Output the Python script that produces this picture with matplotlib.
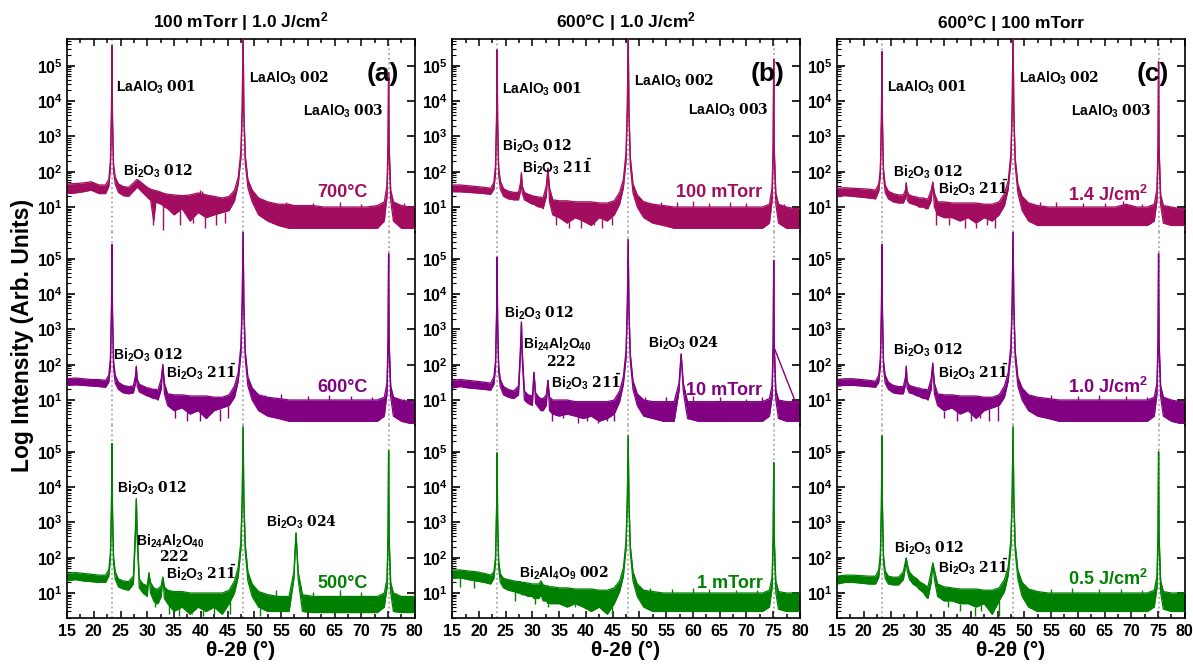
import numpy as np
import matplotlib
matplotlib.use("Agg")
import matplotlib.pyplot as plt
from matplotlib.ticker import LogLocator, MultipleLocator, NullFormatter

plt.rcParams['font.family'] = ['Liberation Sans', 'DejaVu Sans']
plt.rcParams['font.weight'] = 'bold'
plt.rcParams['mathtext.fontset'] = 'custom'
plt.rcParams['mathtext.rm'] = 'Liberation Sans:bold'
plt.rcParams['mathtext.bf'] = 'DejaVu Serif:bold'
plt.rcParams['mathtext.default'] = 'rm'

# 2-theta sample points shared by all patterns (deg)
THETA = [15, 16.5, 18, 19.5, 21, 22.2,
         22.8, 23.1, 23.3, 23.4, 23.5, 23.7, 24.0,
         24.6, 25.5, 26.5, 27.4, 27.8, 27.95, 28.1, 28.5,
         29.2, 30.0, 30.3, 30.6, 31.2, 31.6, 32.0, 32.6, 32.9, 33.2, 33.8,
         35, 36.5, 38, 39.5, 41, 42.5, 44, 45.3,
         46.3, 47.0, 47.5, 47.75, 47.9, 48.05, 48.3, 48.8, 49.6,
         50.8, 52.5, 54.5, 56.5, 57.4, 57.8, 58.2, 59,
         61, 63, 65, 67, 69, 71, 73,
         74.3, 74.8, 75.0, 75.1, 75.2, 75.5, 76.0,
         77.5, 79, 80]

# substrate peaks (dotted guide lines)
LAO_PEAKS = [23.4, 47.9, 75.1]

# ---- (a) 100 mTorr | 1.0 J/cm2, temperature series ----
a700_hi = [45, 46, 48, 52, 42, 42,
           60, 200, 5000, 3.7e5, 3000, 150, 70,
           45, 38, 36, 48, 55, 58, 60, 55,
           45, 36, 34, 32, 30, 29, 28, 26, 25, 24, 23,
           22, 21, 22, 25, 22, 20, 18, 20,
           30, 70, 400, 8000, 1e6, 6000, 300, 60, 30,
           18, 14, 12, 12, 11, 11, 11, 11,
           11, 10, 10, 10, 10, 10, 11,
           14, 40, 800, 6.3e4, 600, 30, 14,
           11, 10, 10]
a700_lo = [24, 25, 27, 30, 24, 24,
           38, 120, 3000, 3.7e5, 2000, 100, 45,
           26, 21, 20, 28, 32, 35, 36, 32,
           25, 19, 17, 16, 4, 14, 13, 12, 11, 10, 9,
           6, 9, 4, 7, 5, 6, 7, 8,
           15, 45, 250, 6000, 1e6, 4000, 180, 35, 14,
           6, 4, 3, 2.5, 2.5, 2.5, 2.5, 2.5,
           2.5, 2.5, 2.5, 2.5, 2.5, 2.5, 2.5,
           4, 20, 400, 6.3e4, 300, 15, 4,
           2.5, 2.5, 2.5]
a700_dip_x = [31.0, 33.0, 36.2, 38.5, 40.8, 42.9, 44.6]
a700_dip_y = [3, 2.2, 3, 3.5, 2.5, 3, 3.5]
a700_up_x = [39.8, 40.3, 52, 56, 61, 66, 70, 78]
a700_up_y = [30, 28, 15, 14, 13, 14, 12, 13]
a600_hi = [40, 42, 40, 38, 38, 36,
           50, 150, 4000, 2.5e5, 3000, 120, 50,
           32, 26, 24, 25, 50, 90, 40, 28,
           25, 22, 22, 21, 20, 20, 19, 40, 100, 30, 15,
           14, 14, 13, 13, 13, 12, 12, 14,
           25, 60, 350, 8000, 6.4e5, 6000, 250, 45, 22,
           14, 12, 11, 10, 10, 10, 10, 10,
           10, 10, 10, 10, 10, 10, 10,
           12, 30, 600, 1.4e5, 500, 25, 12,
           10, 9, 9]
a600_lo = [26, 27, 26, 25, 24, 23,
           32, 90, 2500, 2.5e5, 2000, 80, 30,
           20, 16, 15, 16, 30, 90, 25, 17,
           15, 13, 13, 12, 11, 11, 10, 20, 100, 15, 7,
           5, 6, 4, 5, 3, 5, 6, 7,
           12, 35, 200, 6000, 6.4e5, 4000, 150, 25, 10,
           5, 3.5, 3, 2.5, 2.5, 2.5, 2.5, 2.5,
           2.5, 2.5, 2.5, 2.5, 2.5, 2.5, 2.5,
           3.5, 15, 300, 1.4e5, 250, 12, 3.5,
           2.5, 2.2, 2.2]
a600_dip_x = [35.2, 37.5, 39.8, 41.2, 43.5, 45.0]
a600_dip_y = [3, 2.5, 2.5, 3, 2.5, 3]
a600_up_x = [52, 55, 60, 64, 68, 72, 78]
a600_up_y = [14, 15, 13, 14, 13, 12, 11]
a500_hi = [36, 38, 36, 34, 32, 32,
           45, 130, 3000, 1.7e5, 2000, 100, 40,
           25, 22, 21, 30, 800, 4600, 600, 25,
           18, 16, 37, 20, 14, 13, 13, 16, 28, 15, 12,
           11, 11, 10, 10, 10, 10, 10, 12,
           22, 55, 300, 7000, 5e5, 5000, 250, 40, 18,
           11, 9, 8, 8, 40, 500, 40, 9,
           8, 8, 8, 8, 8, 8, 8,
           10, 25, 500, 1.07e5, 400, 20, 10,
           8, 8, 8]
a500_lo = [22, 24, 22, 21, 20, 20,
           30, 90, 2000, 1.7e5, 1500, 70, 25,
           15, 13, 12, 18, 500, 4600, 400, 14,
           10, 8, 37, 10, 6, 5, 5, 8, 28, 7, 5,
           3, 4, 2.5, 4, 3, 4, 2.5, 5,
           10, 30, 180, 5000, 5e5, 3500, 150, 22, 8,
           4, 3, 3, 3, 25, 500, 25, 3,
           2.8, 2.8, 2.8, 2.8, 2.8, 2.8, 2.8,
           4, 14, 300, 1.07e5, 250, 10, 3,
           2.8, 2.8, 2.8]
a500_dip_x = [31.5, 34.0, 36.0, 38.3, 40.5, 42.5, 45.5, 51.0]
a500_dip_y = [4, 2.5, 2.2, 2.5, 2.2, 2.5, 2.5, 2.2]
a500_up_x = [54, 61, 66, 70, 76.5]
a500_up_y = [12, 11, 12, 11, 10]

# ---- (b) 600 C | 1.0 J/cm2, pressure series ----
b100_hi = [42, 42, 40, 38, 36, 34,
           50, 150, 4000, 2.8e5, 3000, 130, 55,
           33, 28, 26, 26, 50, 92, 40, 26,
           23, 21, 20, 20, 19, 19, 18, 40, 125, 35, 16,
           15, 15, 14, 14, 14, 13, 13, 15,
           26, 60, 350, 8000, 1e6, 6000, 260, 45, 22,
           14, 12, 11, 10, 10, 10, 10, 10,
           10, 10, 10, 10, 10, 10, 10,
           12, 35, 700, 1.5e5, 500, 25, 12,
           10, 9, 9]
b100_lo = [27, 27, 26, 25, 24, 23,
           32, 90, 2500, 2.8e5, 2000, 80, 32,
           20, 17, 16, 16, 30, 92, 25, 16,
           14, 12, 12, 11, 10, 10, 9, 20, 125, 14, 6,
           5, 3.5, 5, 4, 3, 5, 4, 6,
           12, 35, 200, 6000, 1e6, 4000, 150, 25, 10,
           5, 3.5, 3, 2.5, 2.5, 2.5, 2.5, 2.5,
           2.5, 2.5, 2.5, 2.5, 2.5, 2.5, 2.5,
           3.5, 15, 300, 1.5e5, 250, 12, 3.5,
           2.5, 2.5, 2.5]
b100_dip_x = [34.5, 36.8, 39.0, 41.6, 43.0, 44.8]
b100_dip_y = [3, 2.5, 2.5, 3, 2.5, 3]
b100_up_x = [51, 54, 57, 60, 63, 67, 70, 77]
b100_up_y = [15, 14, 14, 15, 13, 14, 13, 12]
b10_hi = [36, 38, 36, 34, 32, 30,
          45, 120, 3000, 1.1e5, 2000, 90, 38,
          24, 20, 18, 25, 400, 1600, 250, 18,
          14, 13, 61, 16, 12, 11, 11, 14, 36, 12, 10,
          10, 10, 9, 9, 9, 9, 9, 10,
          18, 45, 250, 6000, 3.5e5, 4000, 200, 35, 15,
          10, 9, 9, 9, 30, 200, 30, 9,
          9, 9, 9, 9, 9, 9, 9,
          11, 25, 500, 9e4, 400, 20, 10,
          9, 9, 9]
b10_lo = [22, 24, 22, 21, 20, 19,
          28, 80, 2000, 1.1e5, 1500, 60, 24,
          14, 12, 11, 14, 250, 1600, 150, 10,
          8, 7, 61, 8, 6, 5, 5, 7, 36, 5, 4,
          3.5, 4, 3.5, 3, 3.5, 2.5, 3, 4,
          9, 28, 150, 4000, 3.5e5, 3000, 130, 20, 7,
          3.5, 3, 2.5, 2.5, 18, 200, 18, 3,
          2.5, 2.5, 2.5, 2.5, 2.5, 2.5, 2.5,
          3.5, 12, 300, 9e4, 250, 10, 3,
          2.5, 2.5, 2.5]
b10_dip_x = [33.6, 35.8, 38.5, 40.2, 42.3, 44.0, 45.2]
b10_dip_y = [2.5, 3, 2.2, 2.5, 2.2, 2.5, 2.5]
b10_up_x = [51, 55, 60, 65, 70, 73]
b10_up_y = [12, 12, 13, 12, 11, 12]
# stray straight segment in the 10 mTorr scan
b10_stray_x = [75.2, 79.6]
b10_stray_y = [300, 6]
b1_hi = [45, 45, 42, 40, 36, 32,
         40, 100, 2500, 9.3e4, 1500, 80, 35,
         26, 24, 22, 21, 21, 20, 20, 20,
         19, 18, 18, 18, 18, 22, 17, 16, 16, 15, 15,
         14, 14, 13, 13, 13, 12, 12, 14,
         22, 50, 300, 6000, 2.8e5, 4500, 220, 40, 18,
         12, 11, 10, 10, 10, 10, 10, 10,
         10, 10, 10, 10, 10, 10, 10,
         12, 28, 500, 4.9e4, 400, 22, 11,
         10, 10, 10]
b1_lo = [26, 27, 24, 22, 20, 18,
         26, 70, 1800, 9.3e4, 1000, 50, 20,
         14, 12, 11, 10, 10, 9, 9, 9,
         8, 8, 7, 7, 7, 9, 6, 6, 5, 5, 5,
         5, 4, 5, 4, 3, 4, 2.5, 5,
         11, 30, 180, 4000, 2.8e5, 3000, 140, 22, 8,
         4, 3, 3, 3, 3, 3, 3, 3,
         3, 3, 3, 3, 3, 3, 3,
         4, 14, 300, 4.9e4, 250, 10, 3.5,
         3, 3, 3]
b1_dip_x = [16.5, 19.0, 26.8, 30.5, 33.0, 38.0, 41.0, 44.8]
b1_dip_y = [15, 14, 6, 5, 4, 4, 3, 2.5]
b1_up_x = [52, 56, 60, 63, 68, 72]
b1_up_y = [14, 13, 14, 13, 12, 12]

# ---- (c) 600 C | 100 mTorr, fluence series ----
c14_hi = [34, 35, 34, 33, 32, 30,
          45, 120, 3500, 2.5e5, 2500, 110, 42,
          28, 24, 22, 22, 30, 48, 28, 22,
          20, 19, 18, 18, 18, 17, 17, 30, 50, 25, 14,
          14, 13, 13, 13, 13, 12, 12, 14,
          24, 55, 330, 8000, 1e6, 6000, 250, 45, 20,
          13, 11, 10, 10, 10, 10, 10, 10,
          10, 10, 10, 10, 12, 10, 10,
          12, 32, 600, 1.3e5, 500, 22, 11,
          10, 9, 9]
c14_lo = [20, 21, 20, 19, 18, 17,
          28, 80, 2500, 2.5e5, 1800, 70, 26,
          17, 14, 13, 13, 18, 48, 16, 13,
          12, 11, 10, 10, 10, 9, 9, 15, 50, 10, 6,
          5, 5, 4, 5, 3.5, 5, 4, 6,
          11, 32, 200, 6000, 1e6, 4000, 150, 25, 8,
          4, 3, 3, 3, 3, 3, 3, 3,
          3, 3, 3, 3, 3, 3, 3,
          4, 15, 300, 1.3e5, 250, 11, 3.5,
          3, 3, 3]
c14_dip_x = [33.5, 36.0, 39.0, 41.0, 43.0, 44.5]
c14_dip_y = [3, 3, 2.5, 2.5, 3, 2.5]
c14_up_x = [50.5, 53, 56, 61, 65, 68.5, 72]
c14_up_y = [15, 14, 14, 13, 13, 15, 12]
c10_hi = [38, 40, 40, 38, 36, 34,
          50, 150, 4000, 2.5e5, 3000, 120, 50,
          32, 26, 24, 24, 45, 90, 35, 26,
          24, 22, 22, 21, 20, 20, 19, 40, 110, 30, 15,
          14, 14, 13, 13, 13, 12, 12, 14,
          25, 60, 350, 8000, 6.5e5, 6000, 250, 45, 22,
          14, 12, 11, 10, 10, 10, 10, 10,
          10, 10, 10, 10, 10, 10, 10,
          12, 30, 600, 1.4e5, 500, 25, 12,
          10, 9, 9]
c10_lo = [25, 26, 26, 25, 24, 23,
          32, 90, 2500, 2.5e5, 2000, 80, 30,
          20, 16, 15, 15, 28, 90, 22, 16,
          15, 13, 13, 12, 11, 11, 10, 20, 110, 15, 7,
          5, 6, 4, 5, 3, 5, 6, 7,
          12, 35, 200, 6000, 6.5e5, 4000, 150, 25, 10,
          5, 3.5, 3, 2.5, 2.5, 2.5, 2.5, 2.5,
          2.5, 2.5, 2.5, 2.5, 2.5, 2.5, 2.5,
          3.5, 15, 300, 1.4e5, 250, 12, 3.5,
          2.5, 2.2, 2.2]
c10_dip_x = [35.0, 37.5, 40.0, 41.8, 43.5, 45.0]
c10_dip_y = [3, 2.5, 2.5, 3, 2.5, 2.5]
c10_up_x = [52, 55, 60, 64, 69, 73]
c10_up_y = [13, 14, 13, 14, 13, 12]
c05_hi = [30, 32, 32, 31, 30, 30,
          45, 130, 3500, 2.8e5, 2500, 110, 42,
          30, 28, 28, 40, 80, 98, 70, 40,
          30, 25, 22, 20, 18, 16, 15, 40, 70, 45, 18,
          15, 14, 13, 13, 13, 12, 12, 14,
          24, 55, 330, 8000, 5e5, 6000, 250, 45, 20,
          13, 11, 10, 10, 10, 10, 10, 10,
          10, 10, 10, 10, 10, 10, 10,
          12, 30, 550, 1e5, 450, 22, 11,
          10, 10, 10]
c05_lo = [18, 20, 20, 19, 18, 18,
          28, 80, 2500, 2.8e5, 1800, 70, 26,
          18, 17, 17, 24, 55, 98, 45, 25,
          18, 15, 13, 12, 10, 8, 7, 20, 70, 25, 8,
          6, 6, 5, 5, 4, 5, 2.5, 6,
          11, 32, 200, 6000, 5e5, 4000, 150, 25, 8,
          4, 3, 3, 3, 3, 3, 3, 3,
          3, 3, 3, 3, 3, 3, 3,
          4, 14, 300, 1e5, 250, 10, 3.5,
          3, 3, 3]
c05_dip_x = [35.8, 38.0, 40.8, 42.0, 45.3, 52.0]
c05_dip_y = [4, 3, 2.2, 3, 2.2, 3]
c05_up_x = [51, 55, 59, 64, 68, 72]
c05_up_y = [13, 13, 14, 13, 13, 12]

col_titles = ["100 mTorr | 1.0 J/cm$^2$", "600°C | 1.0 J/cm$^2$", "600°C | 100 mTorr"]
panel_tags = ["(a)", "(b)", "(c)"]
row_labels = [["700°C", "600°C", "500°C"],
              ["100 mTorr", "10 mTorr", "1 mTorr"],
              ["1.4 J/cm$^2$", "1.0 J/cm$^2$", "0.5 J/cm$^2$"]]
row_colors = ['#A20D5F', '#820082', '#008000']

curves = [[(a700_lo, a700_hi), (a600_lo, a600_hi), (a500_lo, a500_hi)],
          [(b100_lo, b100_hi), (b10_lo, b10_hi), (b1_lo, b1_hi)],
          [(c14_lo, c14_hi), (c10_lo, c10_hi), (c05_lo, c05_hi)]]
spikes = [[(a700_dip_x, a700_dip_y, a700_up_x, a700_up_y),
           (a600_dip_x, a600_dip_y, a600_up_x, a600_up_y),
           (a500_dip_x, a500_dip_y, a500_up_x, a500_up_y)],
          [(b100_dip_x, b100_dip_y, b100_up_x, b100_up_y),
           (b10_dip_x, b10_dip_y, b10_up_x, b10_up_y),
           (b1_dip_x, b1_dip_y, b1_up_x, b1_up_y)],
          [(c14_dip_x, c14_dip_y, c14_up_x, c14_up_y),
           (c10_dip_x, c10_dip_y, c10_up_x, c10_up_y),
           (c05_dip_x, c05_dip_y, c05_up_x, c05_up_y)]]

LAO1 = r"LaAlO$_3$ $\mathbf{001}$"
LAO2 = r"LaAlO$_3$ $\mathbf{002}$"
LAO3 = r"LaAlO$_3$ $\mathbf{003}$"
B012 = r"Bi$_2$O$_3$ $\mathbf{012}$"
B211 = r"Bi$_2$O$_3$ $\mathbf{21}\bar{\mathbf{1}}$"
B024 = r"Bi$_2$O$_3$ $\mathbf{024}$"
BAO = r"Bi$_{24}$Al$_2$O$_{40}$"
B222 = r"$\mathbf{222}$"
B249 = r"Bi$_2$Al$_4$O$_9$ $\mathbf{002}$"

# peak annotations: (text, x, y, ha)
notes = [
    [[(LAO1, 24.2, 2.5e4, 'left'), (LAO2, 49.1, 4.5e4, 'left'), (LAO3, 74.2, 5e3, 'right'),
      (B012, 25.5, 105, 'left')],
     [(B012, 23.6, 190, 'left'), (B211, 33.5, 65, 'left')],
     [(B012, 24.4, 9e3, 'left'), (BAO, 27.9, 300, 'left'), (B222, 35.0, 110, 'center'),
      (B211, 33.5, 37, 'left'), (B024, 52.1, 1000, 'left')]],
    [[(LAO1, 24.4, 2.2e4, 'left'), (LAO2, 48.9, 3.7e4, 'left'), (LAO3, 74.2, 5.6e3, 'right'),
      (B012, 24.4, 520, 'left'), (B211, 28.1, 135, 'left')],
     [(B012, 24.6, 2.8e3, 'left'), (BAO, 28.3, 370, 'left'), (B222, 35.4, 120, 'center'),
      (B211, 33.5, 33, 'left'), (B024, 51.7, 400, 'left')],
     [(B249, 27.5, 37, 'left')]],
    [[(LAO1, 24.3, 2.5e4, 'left'), (LAO2, 49.0, 4.5e4, 'left'), (LAO3, 73.9, 5e3, 'right'),
      (B012, 25.5, 98, 'left'), (B211, 33.9, 34, 'left')],
     [(B012, 25.5, 250, 'left'), (B211, 33.9, 65, 'left')],
     [(B012, 25.6, 190, 'left'), (B211, 33.9, 55, 'left')]],
]

fig = plt.figure(figsize=(11.93, 6.69), dpi=100)
col_left = [0.0562, 0.379, 0.7016]
col_w = 0.2915
bottom, top = 0.0762, 0.9417
row_h = (top - bottom) / 3

for c in range(3):
    for r in range(3):
        ax = fig.add_axes([col_left[c], top - (r + 1) * row_h, col_w, row_h])
        ax.patch.set_alpha(0)
        lo, hi = curves[c][r]
        col = row_colors[r]
        for p in LAO_PEAKS:
            ax.axvline(p, color='#A8A8A8', ls=':', lw=1.3, zorder=1)
        ax.fill_between(THETA, lo, hi, color=col, lw=0, zorder=2)
        ax.plot(THETA, hi, color=col, lw=0.9, zorder=3)
        ax.plot(THETA, lo, color=col, lw=0.9, zorder=3)
        # noise spikes leaving the band
        dx, dy, ux, uy = spikes[c][r]
        ax.vlines(dx, dy, np.interp(dx, THETA, lo), color=col, lw=1.0, zorder=3)
        ax.vlines(ux, np.interp(ux, THETA, hi), uy, color=col, lw=1.0, zorder=3)
        if c == 1 and r == 1:
            ax.plot(b10_stray_x, b10_stray_y, color=col, lw=1.0, zorder=3)

        ax.set_yscale('log')
        ax.set_xlim(15, 80)
        ax.set_ylim(1.96, 5.7e5)
        ax.yaxis.set_major_locator(LogLocator(base=10, numticks=10))
        ax.yaxis.set_minor_locator(LogLocator(base=10, subs=np.arange(2, 10), numticks=20))
        ax.yaxis.set_minor_formatter(NullFormatter())
        ax.tick_params(axis='y', which='major', direction='in', length=6, width=1.2,
                       right=True, labelsize=11.5, pad=3)
        ax.tick_params(axis='y', which='minor', direction='in', length=3, width=0.8,
                       right=False)
        ax.xaxis.set_major_locator(MultipleLocator(5))
        ax.xaxis.set_minor_locator(MultipleLocator(2.5))
        for s in ax.spines.values():
            s.set_linewidth(1.2)
        if r == 0:
            ax.spines['bottom'].set_visible(False)
            ax.tick_params(axis='x', which='both', direction='in', top=True, bottom=False,
                           labelbottom=False, length=5, width=1.1)
            ax.tick_params(axis='x', which='minor', length=3)
            ax.set_title(col_titles[c], fontsize=12.5, fontweight='bold', pad=8)
            ax.text(0.955, 0.82, panel_tags[c], transform=ax.transAxes, ha='right',
                    va='center', fontsize=19, fontweight='bold')
        elif r == 1:
            ax.spines['bottom'].set_visible(False)
            ax.spines['top'].set_visible(False)
            ax.tick_params(axis='x', which='both', top=False, bottom=False, labelbottom=False)
        else:
            ax.spines['top'].set_visible(False)
            ax.tick_params(axis='x', which='both', direction='in', bottom=True, top=False,
                           length=5, width=1.1, labelsize=11.5, pad=4)
            ax.tick_params(axis='x', which='minor', length=3)
            ax.set_xlabel("θ-2θ (°)", fontsize=15, fontweight='bold', labelpad=2)

        for txt, x, y, ha in notes[c][r]:
            ax.text(x, y, txt, ha=ha, va='center', fontsize=10, zorder=5)
        lab_x = [71.2, 73.0, 73.0][c]
        lab_y = [[25, 22, 19], [25, 18, 19], [22, 24, 25]][c][r]
        ax.text(lab_x, lab_y, row_labels[c][r], color=col, ha='right', va='center',
                fontsize=13, fontweight='bold', zorder=5)

fig.text(0.0185, 0.499, "Log Intensity (Arb. Units)", rotation=90, ha='center',
         va='center', fontsize=16.5, fontweight='bold')

fig.savefig("out.png", dpi=100)
